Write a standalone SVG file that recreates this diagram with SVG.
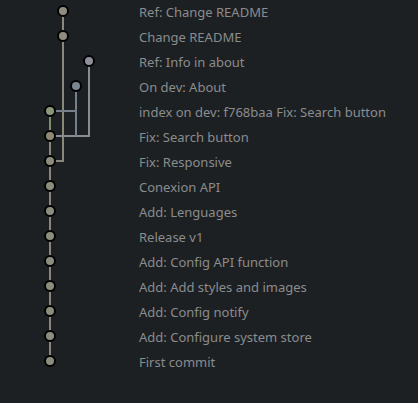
<svg xmlns="http://www.w3.org/2000/svg" width="418" height="403" viewBox="0 0 418 403">
<style>
.bg{fill:#1d2023}
.t{font-family:"Noto Sans","Open Sans",sans-serif;font-size:13px;fill:#8a8c8e}
.n{stroke:#000;stroke-width:2}
.l{fill:none;stroke-width:2}
</style>
<rect class="bg" width="418" height="403"/>
<g id="connectors">
<path class="l" stroke="#8a877c" d="M63 11V161H50"/>
<path class="l" stroke="#8b8b93" d="M89 61V136H50"/>
<path class="l" stroke="#76808b" d="M76 86V136M50 111H76"/>
<path class="l" stroke="#7f8c6e" d="M50 111V136"/>
<path class="l" stroke="#8a877a" d="M50 136V361"/>
</g>
<g id="n0"><circle class="n" cx="63" cy="11" r="5" fill="#8e8d7e"/><text class="t" x="139" y="17">Ref: Change README</text></g>
<g id="n1"><circle class="n" cx="63" cy="36" r="5" fill="#8e8d7e"/><text class="t" x="139" y="42">Change README</text></g>
<g id="n2"><circle class="n" cx="89" cy="61" r="5" fill="#8f8f99"/><text class="t" x="139" y="67">Ref: Info in about</text></g>
<g id="n3"><circle class="n" cx="76" cy="86" r="5" fill="#7b8591"/><text class="t" x="139" y="92">On dev: About</text></g>
<g id="n4"><circle class="n" cx="50" cy="111" r="5" fill="#8b967b"/><text class="t" x="139" y="117">index on dev: f768baa Fix: Search button</text></g>
<g id="n5"><circle class="n" cx="50" cy="136" r="5" fill="#8e8874"/><text class="t" x="139" y="142">Fix: Search button</text></g>
<g id="n6"><circle class="n" cx="50" cy="161" r="5" fill="#8d8d7d"/><text class="t" x="139" y="167">Fix: Responsive</text></g>
<g id="n7"><circle class="n" cx="50" cy="186" r="5" fill="#8d8d7d"/><text class="t" x="139" y="192">Conexion API</text></g>
<g id="n8"><circle class="n" cx="50" cy="211" r="5" fill="#8d8d7d"/><text class="t" x="139" y="217">Add: Lenguages</text></g>
<g id="n9"><circle class="n" cx="50" cy="236" r="5" fill="#8d8d7d"/><text class="t" x="139" y="242">Release v1</text></g>
<g id="n10"><circle class="n" cx="50" cy="261" r="5" fill="#8d8d7d"/><text class="t" x="139" y="267">Add: Config API function</text></g>
<g id="n11"><circle class="n" cx="50" cy="286" r="5" fill="#8d8d7d"/><text class="t" x="139" y="292">Add: Add styles and images</text></g>
<g id="n12"><circle class="n" cx="50" cy="311" r="5" fill="#8d8d7d"/><text class="t" x="139" y="317">Add: Config notify</text></g>
<g id="n13"><circle class="n" cx="50" cy="336" r="5" fill="#8d8d7d"/><text class="t" x="139" y="342">Add: Configure system store</text></g>
<g id="n14"><circle class="n" cx="50" cy="361" r="5" fill="#8d8d7d"/><text class="t" x="139" y="367">First commit</text></g>
</svg>
